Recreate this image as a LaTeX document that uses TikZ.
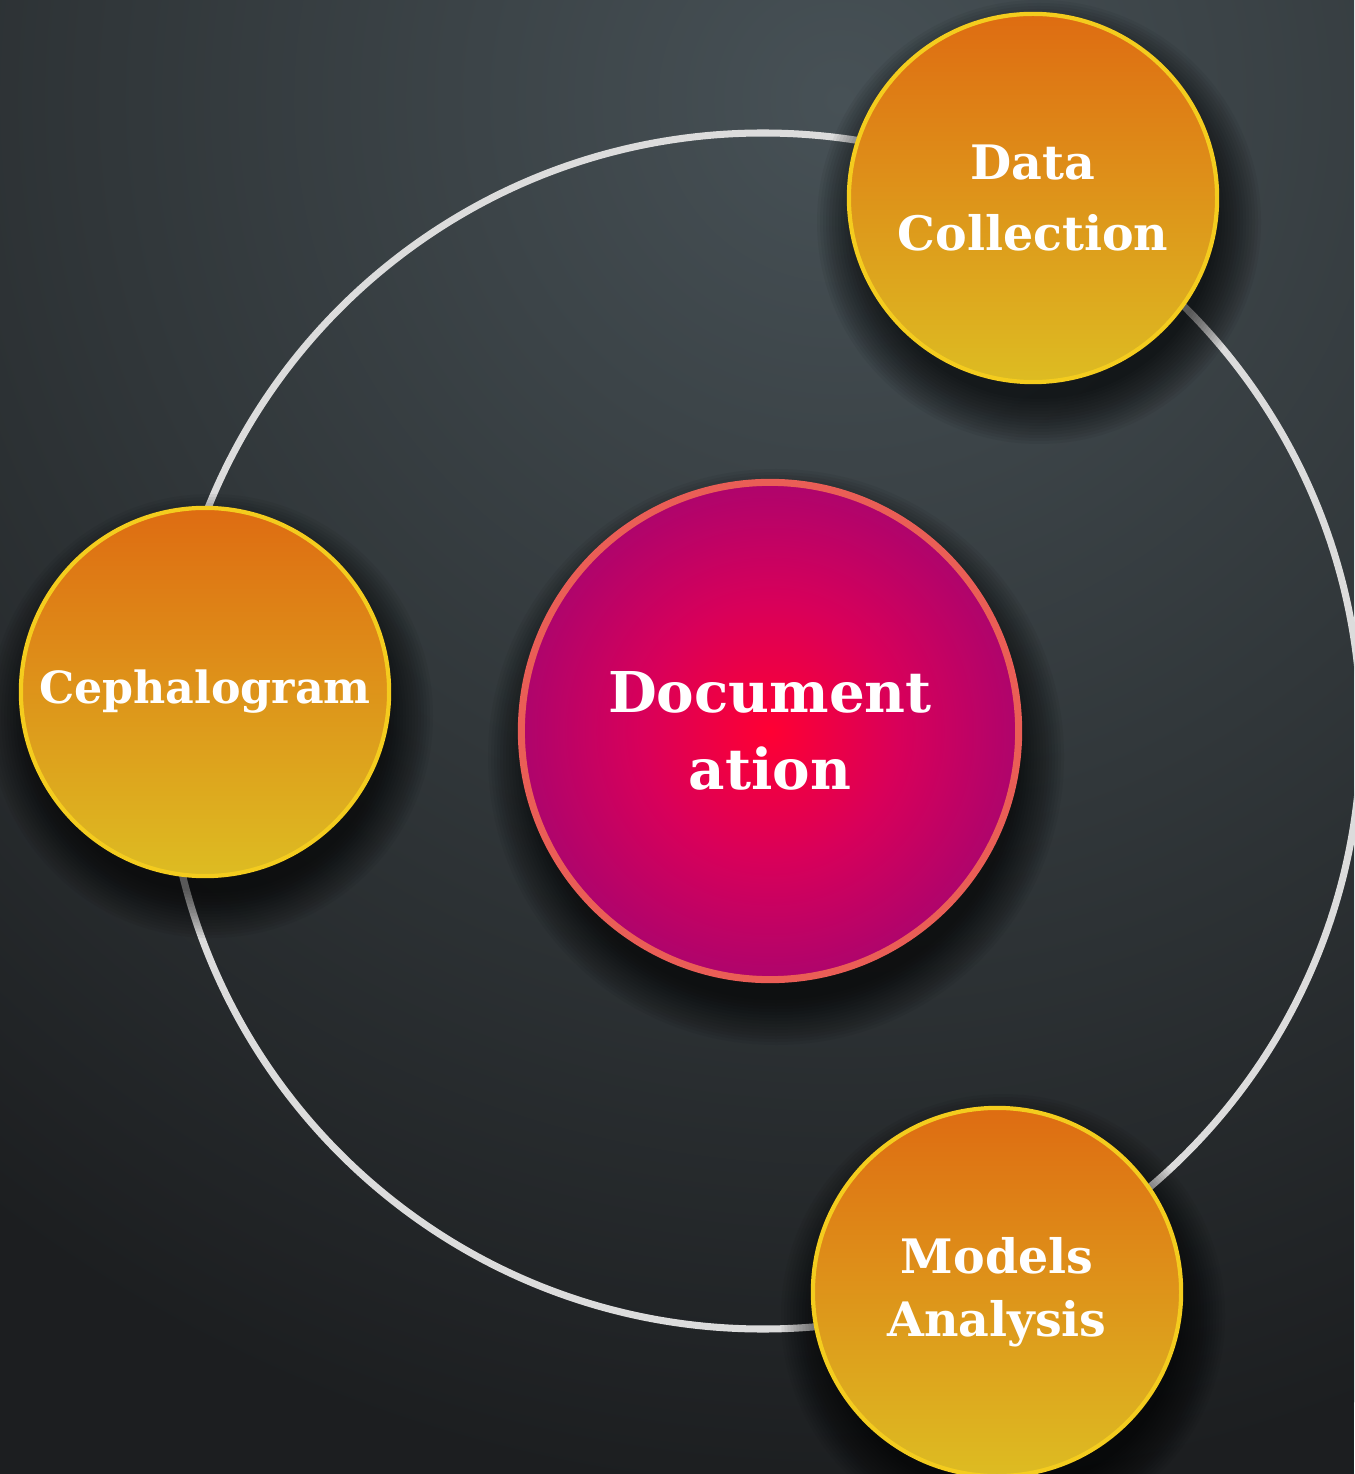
\documentclass[tikz,border=0pt]{standalone}
\usepackage{fontspec}
\setmainfont{DejaVu Serif}
\usepackage{xcolor}
\definecolor{BgDark}{HTML}{1C1E20}
\definecolor{BgMid}{HTML}{31373A}
\definecolor{BgLight}{HTML}{475156}
\definecolor{Ring}{HTML}{DCDCDC}
\definecolor{OrangeTop}{HTML}{DE6C12}
\definecolor{OrangeBottom}{HTML}{DDBC22}
\definecolor{OrangeEdge}{HTML}{F4CC1E}
\definecolor{DocRed}{HTML}{FF0033}
\definecolor{DocMid}{HTML}{D8005A}
\definecolor{DocMag}{HTML}{AE046C}
\definecolor{DocEdge}{HTML}{EA5E56}
\usetikzlibrary{positioning}
\pgfdeclareradialshading{docglow}{\pgfpoint{0bp}{0bp}}{color(0bp)=(DocRed); color(13bp)=(DocMid); color(25bp)=(DocMag); color(50bp)=(DocMag)}
\pgfdeclareradialshading{bgglow}{\pgfpoint{0bp}{0bp}}{color(0bp)=(BgLight); color(13bp)=(BgMid); color(25bp)=(BgDark); color(50bp)=(BgDark)}
\tikzset{
  stage/.style={
    circle, minimum size=3.68cm, inner sep=0pt,
    line width=1.2pt, draw=OrangeEdge,
    top color=OrangeTop, bottom color=OrangeBottom,
    text=white, align=center,
    font=\bfseries\fontsize{13.5}{20}\selectfont
  },
  core/.style={
    circle, minimum size=4.97cm, inner sep=0pt,
    line width=2pt, draw=DocEdge, shading=docglow,
    text=white, align=center,
    font=\bfseries\fontsize{16}{22}\selectfont
  },
  orbit/.style={draw=Ring, line width=2pt},
  halo/.style={fill=black, opacity=0.05},
}

\begin{document}
\begin{tikzpicture}[x=0.01cm, y=-0.01cm]

% Background
\useasboundingbox (0,0) rectangle (1354,1474);
\fill[BgDark] (0,0) rectangle (1354,1474);
\begin{scope}
  \clip (0,0) rectangle (1354,1474);
  \shade[shading=bgglow] (840,100) circle (1400);
\end{scope}

% Centres
\coordinate (pDoc) at (770,731);
\coordinate (pData) at (1033,198);
\coordinate (pCeph) at (205,692);
\coordinate (pModel) at (997,1292);

% Orbit ring
\draw[orbit] (763,731) circle (598);

% Soft drop shadows
\foreach \k in {1,...,16} {
  \fill[halo] ([shift={(6,26)}]pDoc) circle ({240+3*\k});
  \fill[halo] ([shift={(6,24)}]pData) circle ({174+3*\k});
  \fill[halo] ([shift={(6,24)}]pCeph) circle ({174+3*\k});
  \fill[halo] ([shift={(6,24)}]pModel) circle ({174+3*\k});
}

% Central node
\node[core] at (pDoc) (doc) {Document\\ation};

% Outer stages
\node[stage] at (pData) (data) {Data\\Collection};
\node[stage, font=\bfseries\fontsize{12.6}{19}\selectfont] at (pCeph) (ceph) {Cephalogram};
\node[stage] at (pModel) (model) {Models\\[-2pt]Analysis};

\end{tikzpicture}
\end{document}
